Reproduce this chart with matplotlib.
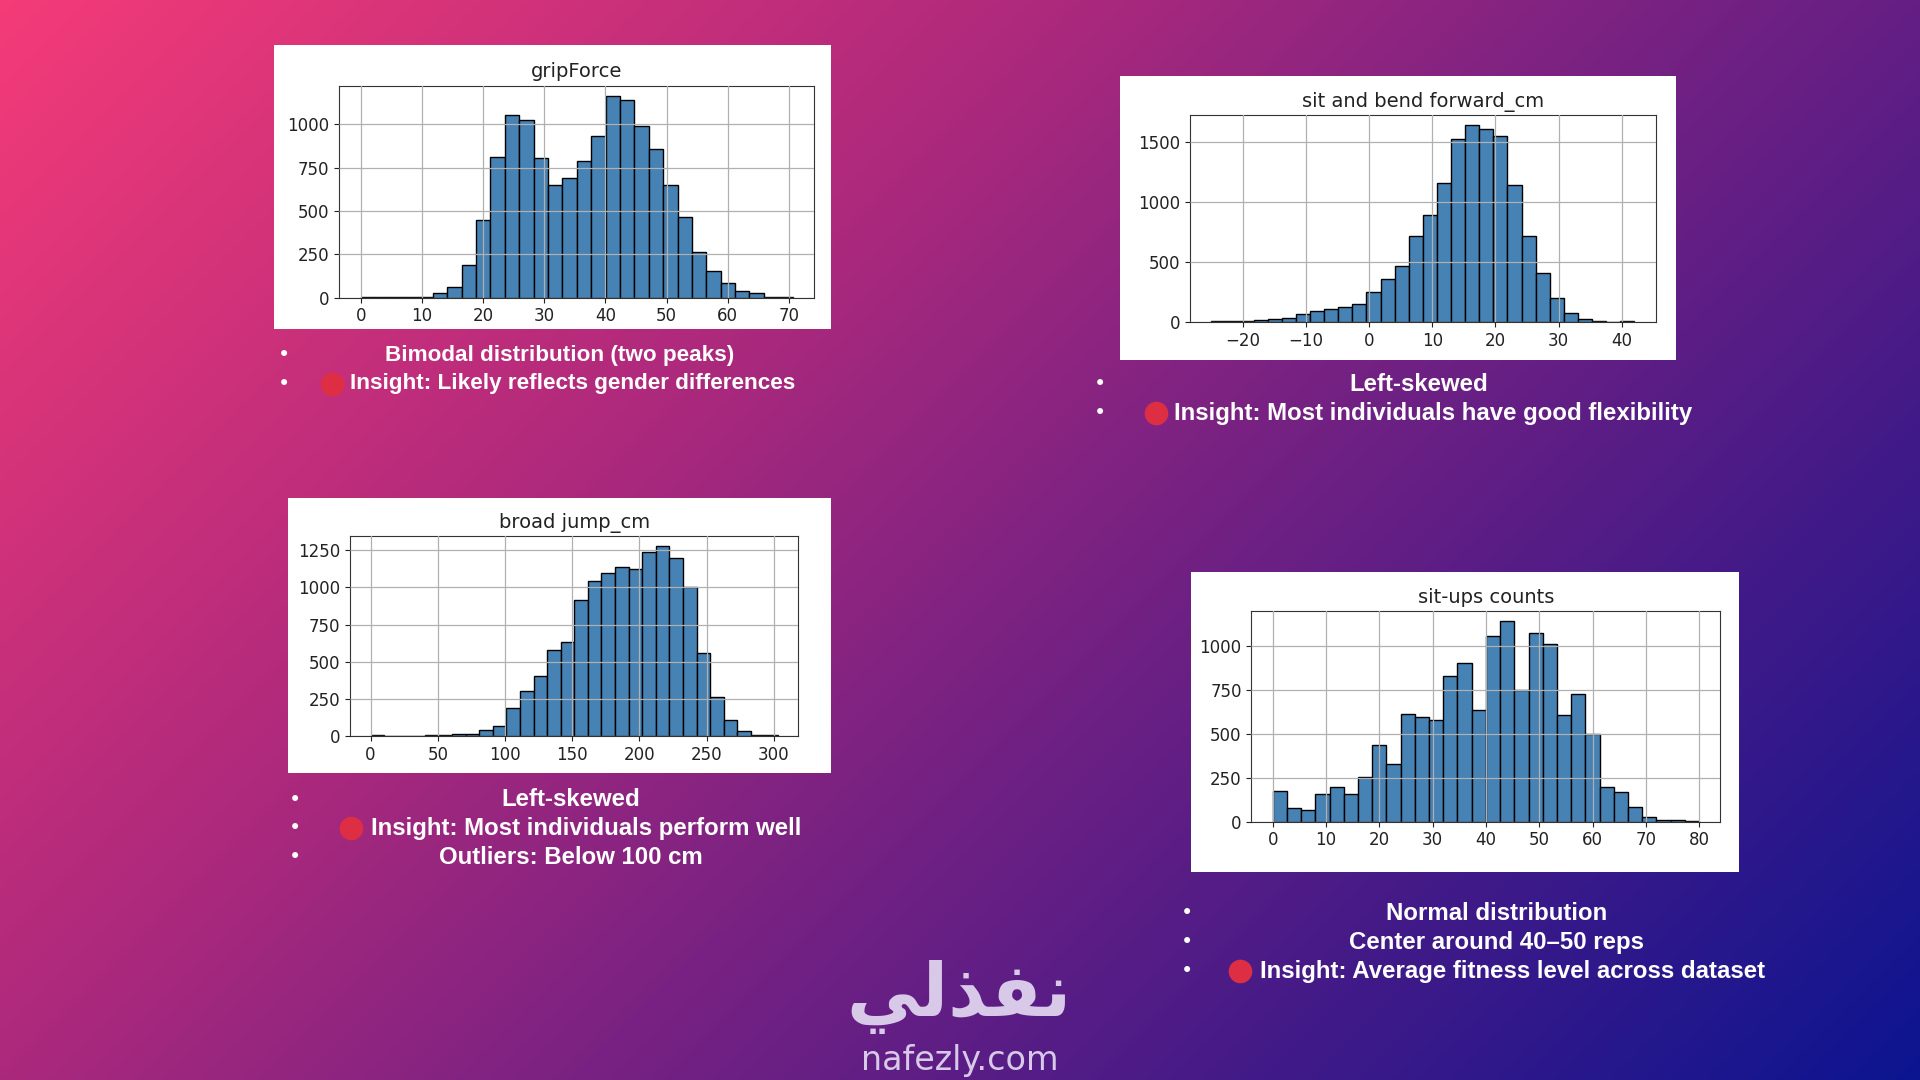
import numpy as np
import matplotlib.pyplot as plt
from matplotlib.colors import LinearSegmentedColormap
from matplotlib.patches import Rectangle
from matplotlib.lines import Line2D
from matplotlib.ticker import MultipleLocator

# counts of the 30 bins
grip_counts = [5, 3, 3, 3, 5, 25, 60, 190, 450, 810, 1055, 1025, 805, 650, 690,
               790, 935, 1165, 1140, 990, 860, 650, 465, 265, 155, 85, 40, 25, 5, 5]
grip_range = (0, 70.6)

sit_bend_counts = [5, 5, 12, 15, 25, 35, 70, 90, 105, 125, 150, 250, 355, 470, 715,
                   890, 1160, 1525, 1640, 1605, 1545, 1140, 720, 410, 200, 75, 25, 7, 2, 8]
sit_bend_range = (-25, 42)

jump_counts = [5, 0, 0, 0, 3, 5, 10, 10, 40, 65, 185, 300, 405, 580, 635,
               915, 1040, 1100, 1140, 1125, 1240, 1280, 1195, 1005, 555, 265, 105, 35, 5, 5]
jump_range = (0, 303)

situps_counts = [175, 80, 65, 155, 195, 160, 255, 440, 330, 615, 600, 580, 830, 905, 635,
                 1060, 1145, 750, 1075, 1015, 610, 730, 500, 195, 170, 85, 25, 12, 12, 5]
situps_range = (0, 80)

titles = ["gripForce", "sit and bend forward_cm", "broad jump_cm", "sit-ups counts"]
y_steps = [250, 500, 250, 250]

notes = [
    ["Bimodal distribution (two peaks)", "Insight: Likely reflects gender differences"],
    ["Left-skewed", "Insight: Most individuals have good flexibility"],
    ["Left-skewed", "Insight: Most individuals perform well", "Outliers: Below 100 cm"],
    ["Normal distribution", "Center around 40\u201350 reps", "Insight: Average fitness level across dataset"],
]

# layout measured on a 1568x882 copy of the slide
W, H = 1568, 882
panels = [
    dict(box=(224, 37, 679, 269), ax=(277, 70, 665, 243)),
    dict(box=(915, 62, 1369, 294), ax=(972, 94, 1352, 263)),
    dict(box=(235, 407, 679, 631), ax=(286, 438, 652, 601)),
    dict(box=(973, 467, 1420, 712), ax=(1022, 499, 1405, 671)),
]
# bullet x, text centre x, first line y, red dot x, insight text x, font size
text_pos = [
    dict(bx=232, cx=457, y=290, dot=271, tx=286, fs=16.2),
    dict(bx=898, cx=1159, y=314, dot=944, tx=959, fs=17.3),
    dict(bx=241, cx=466, y=653, dot=287, tx=303, fs=17.3),
    dict(bx=969, cx=1222, y=746, dot=1013, tx=1029, fs=17.3),
]
line_gap = 23.5


def fx(x):
    return x / W


def fy(y):
    return 1 - y / H


fig = plt.figure(figsize=(19.2, 10.8), dpi=100)

# background gradient
bg = fig.add_axes([0, 0, 1, 1])
xx, yy = np.meshgrid(np.linspace(0, 1, 400), np.linspace(0, 1, 225))
t = 0.64 * xx + 0.36 * yy
cmap = LinearSegmentedColormap.from_list(
    "bg", [(0, "#f43b78"), (0.33, "#b22a7c"), (0.55, "#7a2282"),
           (0.78, "#421a88"), (1, "#0c1590")])
bg.imshow(t, cmap=cmap, aspect="auto", extent=(0, 1, 0, 1), origin="upper")
bg.set_axis_off()

hists = [(grip_counts, grip_range), (sit_bend_counts, sit_bend_range),
         (jump_counts, jump_range), (situps_counts, situps_range)]

for i, (counts, rng) in enumerate(hists):
    x0, y0, x1, y1 = panels[i]["box"]
    fig.patches.append(Rectangle((fx(x0), fy(y1)), fx(x1) - fx(x0), fy(y0) - fy(y1),
                                 transform=fig.transFigure, facecolor="white",
                                 edgecolor="none", zorder=1))
    a0, b0, a1, b1 = panels[i]["ax"]
    ax = fig.add_axes([fx(a0), fy(b1), fx(a1) - fx(a0), fy(b0) - fy(b1)])
    ax.set_zorder(2)
    edges = np.linspace(rng[0], rng[1], len(counts) + 1)
    ax.bar(edges[:-1], counts, width=np.diff(edges), align="edge",
           color="#4682b4", edgecolor="black", linewidth=1.0, zorder=2)
    ax.yaxis.set_major_locator(MultipleLocator(y_steps[i]))
    ax.grid(True, color="#b0b0b0", linewidth=0.9)
    ax.set_axisbelow(False)
    for g in ax.get_xgridlines() + ax.get_ygridlines():
        g.set_zorder(3)
    ax.set_title(titles[i], fontsize=14, color="#222222", pad=6)
    ax.tick_params(labelsize=12, colors="#222222")
    for s in ax.spines.values():
        s.set_color("#333333")

# bullet notes
for i, lines in enumerate(notes):
    p = text_pos[i]
    for j, line in enumerate(lines):
        y = p["y"] + j * line_gap
        fig.text(fx(p["bx"]), fy(y), "\u2022", color="white", fontsize=15,
                 ha="center", va="center", family="DejaVu Sans", zorder=5)
        if line.startswith("Insight"):
            fig.add_artist(Line2D([fx(p["dot"])], [fy(y)], marker="o", markersize=16,
                                  color="#dd2e44", transform=fig.transFigure, zorder=5))
            fig.text(fx(p["tx"]), fy(y), line, color="white", fontsize=p["fs"],
                     fontweight="bold", ha="left", va="center",
                     family="Liberation Sans", zorder=5)
        else:
            fig.text(fx(p["cx"]), fy(y), line, color="white", fontsize=p["fs"],
                     fontweight="bold", ha="center", va="center",
                     family="Liberation Sans", zorder=5)

# logo
logo_ar = "\uFEF2\uFEDF\uFEAC\uFED4\uFEE7"
fig.text(fx(783), fy(814), logo_ar, color="#d9c9e8", fontsize=53, fontweight="bold",
         ha="center", va="center", family="DejaVu Sans", zorder=5)
fig.text(fx(784), fy(866), "nafezly.com", color="#d9c9e8", fontsize=24,
         ha="center", va="center", family="DejaVu Sans", zorder=5)

fig.savefig("out.png", dpi=100)
